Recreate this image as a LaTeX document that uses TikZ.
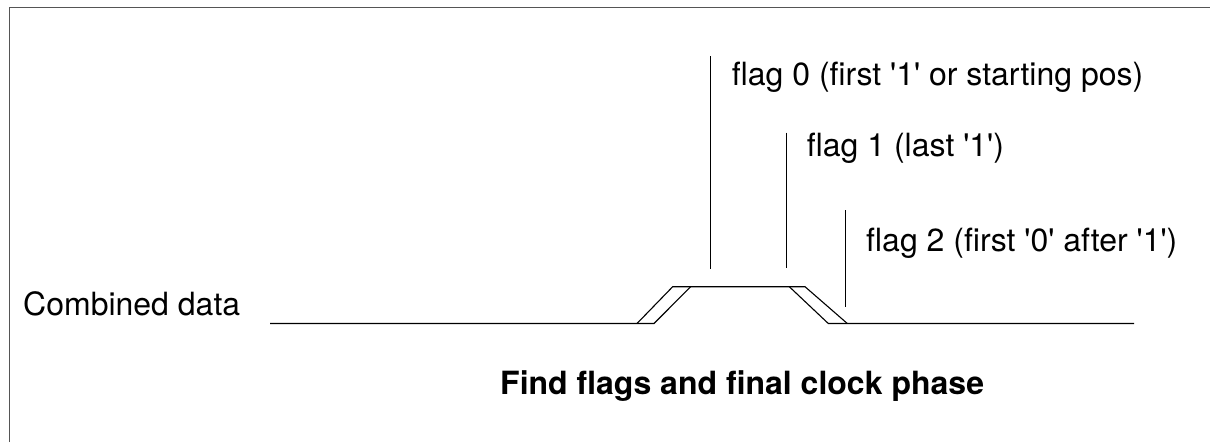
\documentclass[tikz,border=0pt]{standalone}
\usepackage{fontspec}
\setmainfont{TeX Gyre Heros}[Ligatures=TeXOff]
\definecolor{framegray}{RGB}{85,85,85}
\begin{document}
\begin{tikzpicture}[x=1pt,y=-1pt,
  wave/.style={line width=1.1pt,black,line join=miter},
  flagline/.style={line width=1.1pt,black},
  frameline/.style={line width=1.6pt,framegray},
  lbl/.style={anchor=base west,inner sep=0pt,font=\fontsize{32}{38}\selectfont},
  ttl/.style={anchor=base west,inner sep=0pt,font=\fontsize{32}{38}\selectfont\bfseries}]
\useasboundingbox (0,0) rectangle (1210,442);
\fill[white] (0,0) rectangle (1210,442);
% frame (top and left only visible)
\coordinate (fbl) at (9.5,442);
\coordinate (ftl) at (9.5,7.5);
\coordinate (ftr) at (1210,7.5);
\draw[frameline] (fbl) -- (ftl) -- (ftr);
% waveform
\coordinate (l0) at (270,323.5);
\coordinate (lo1) at (637,323.5);
\coordinate (li1) at (654,323.5);
\coordinate (to1) at (672.7,286.7);
\coordinate (ti1) at (690.7,286.7);
\coordinate (ti2) at (789.3,286.7);
\coordinate (to2) at (805,286.7);
\coordinate (li2) at (828.3,323.5);
\coordinate (lo2) at (847.3,323.5);
\coordinate (l3) at (1134,323.5);
\draw[wave] (l0) -- (li1) -- (ti1);
\draw[wave] (lo1) -- (to1) -- (to2) -- (lo2);
\draw[wave] (ti2) -- (li2) -- (l3);
% flag markers
\coordinate (f0t) at (710.7,56);
\coordinate (f0b) at (710.7,269);
\coordinate (f1t) at (786.7,132.7);
\coordinate (f1b) at (786.7,268);
\coordinate (f2t) at (845.3,210);
\coordinate (f2b) at (845.3,306.7);
\draw[flagline] (f0t) -- (f0b);
\draw[flagline] (f1t) -- (f1b);
\draw[flagline] (f2t) -- (f2b);
% labels
\node[lbl] (comb) at (23,315) {Combined data};
\node[lbl] (t0) at (731.7,85) {flag 0 (first '1' or starting pos)};
\node[lbl] (t1) at (806.7,156.7) {flag 1 (last '1')};
\node[lbl] (t2) at (866,251.7) {flag 2 (first '0' after '1')};
\node[ttl] (title) at (500,394.3) {Find flags and final clock phase};
\end{tikzpicture}
\end{document}
